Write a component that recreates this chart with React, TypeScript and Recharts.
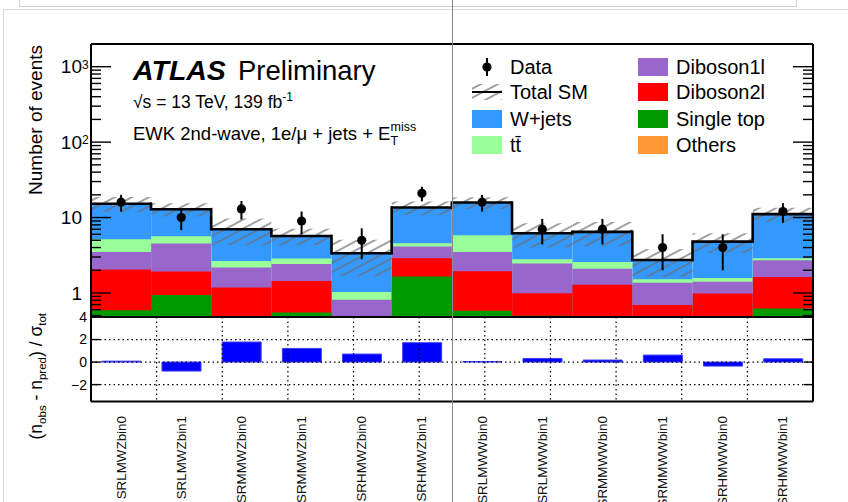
import React from 'react';
import { ComposedChart, Bar, Scatter, ErrorBar, XAxis, YAxis, ReferenceLine } from 'recharts';

// ---------- data ----------
const bins = [
  'SRLMWZbin0', 'SRLMWZbin1', 'SRMMWZbin0', 'SRMMWZbin1', 'SRHMWZbin0', 'SRHMWZbin1',
  'SRLMWWbin0', 'SRLMWWbin1', 'SRMMWWbin0', 'SRMMWWbin1', 'SRHMWWbin0', 'SRHMWWbin1',
];
const others = [0.05, 0.05, 0.05, 0.05, 0.03, 0.05, 0.05, 0.05, 0.05, 0.03, 0.03, 0.05];
const singleTop = [0.54, 0.89, 0.15, 0.5, 0.07, 1.6, 0.53, 0.45, 0.25, 0.27, 0.27, 0.57];
const diboson2l = [1.45, 0.98, 0.98, 0.89, 0.2, 1.24, 1.36, 0.49, 0.98, 0.39, 0.68, 1.01];
const diboson1l = [1.46, 2.6, 0.99, 0.99, 0.51, 1.23, 1.56, 1.46, 0.82, 0.68, 0.43, 1.09];
const ttbar = [1.67, 1.13, 0.49, 0.43, 0.22, 0.45, 2.33, 0.35, 0.48, 0.15, 0.17, 0.17];
const wjets = [10.1, 7.25, 4.34, 2.84, 2.33, 9.03, 9.97, 3.4, 3.88, 1.22, 3.22, 8.21];
const totalUnc = [3.4, 2.6, 2.7, 1.4, 1.7, 2.7, 2.8, 2.2, 2.3, 1.1, 1.4, 2.4];
const dataCounts = [16, 10, 13, 9, 5, 21, 16, 7, 7, 4, 4, 12];
const dataErrLow = [4, 3.2, 3.6, 3, 2.2, 4.6, 4, 2.6, 2.6, 2, 2, 3.5];
const dataErrHigh = [4, 3.2, 3.6, 3, 2.2, 4.6, 4, 2.6, 2.6, 2, 2, 3.5];
const significance = [0.08, -0.8, 1.78, 1.21, 0.71, 1.72, 0.05, 0.32, 0.18, 0.62, -0.36, 0.29];

// axis ticks
const topTicks = [
  0.5, 0.6, 0.7, 0.8, 0.9, 1, 2, 3, 4, 5, 6, 7, 8, 9, 10, 20, 30, 40, 50, 60, 70, 80, 90,
  100, 200, 300, 400, 500, 600, 700, 800, 900, 1000, 2000,
];
const topTickLabels: Record<number, [string, string]> = {
  1: ['1', ''], 10: ['10', ''], 100: ['10', '2'], 1000: ['10', '3'],
};
const lowTicks = [-2, 0, 2, 4];
const lowTickLabels: Record<string, string> = { '-2': '\u22122', '0': '0', '2': '2', '4': '4' };
const edgeTicks = [1, 2, 3, 4, 5, 6, 7, 8, 9, 10, 11];

const COLORS = {
  wjets: '#3399ff',
  ttbar: '#99ff99',
  diboson1l: '#9966cc',
  diboson2l: '#ff0000',
  singleTop: '#009900',
  others: '#ff9933',
};

// ---------- rows ----------
const totals = bins.map(
  (_, i) => others[i] + singleTop[i] + diboson2l[i] + diboson1l[i] + ttbar[i] + wjets[i]
);
const rows = bins.map((bin, i) => {
  const cOth = others[i];
  const cSt = cOth + singleTop[i];
  const cD2 = cSt + diboson2l[i];
  const cD1 = cD2 + diboson1l[i];
  const cTt = cD1 + ttbar[i];
  const cW = cTt + wjets[i];
  const nxt = i < bins.length - 1 ? totals[i + 1] : cW;
  return {
    bin, cOth, cSt, cD2, cD1, cTt, cW,
    band: [cW - totalUnc[i], cW + totalUnc[i]],
    step: [Math.min(cW, nxt), Math.max(cW, nxt)],
    data: dataCounts[i],
    dataErr: [dataErrLow[i], dataErrHigh[i]],
    sig: significance[i],
  };
});

// ---------- shapes / ticks ----------
const TopLineShape = (p: any) => {
  if (p.y == null || isNaN(p.y)) return null;
  return <line x1={p.x} x2={p.x + p.width} y1={p.y} y2={p.y} stroke="#000" strokeWidth={2.6} />;
};
const StepShape = (p: any) => {
  if (p.y == null || isNaN(p.y) || !p.height) return null;
  const x = p.x + p.width;
  const y1 = Math.min(p.y, p.y + p.height);
  const y2 = Math.max(p.y, p.y + p.height);
  return <line x1={x} x2={x} y1={y1 - 1.3} y2={y2 + 1.3} stroke="#000" strokeWidth={2.6} />;
};
const DotShape = (p: any) => <circle cx={p.cx} cy={p.cy} r={4.6} fill="#000" />;

const LogTickLeft = (p: any) => {
  const v = p.payload.value;
  const lab = topTickLabels[v];
  const { x, y } = p;
  return (
    <g>
      <line x1={x} x2={x + (lab ? 20 : 10)} y1={y} y2={y} stroke="#000" strokeWidth={1.4} />
      {lab && (
        <text x={x - 9} y={y} dy="0.35em" textAnchor="end" fontSize={19} fill="#000">{lab[0]}</text>
      )}
      {lab && lab[1] && (
        <text x={x - 9} y={y + 2} textAnchor="start" fontSize={12} fill="#000">{lab[1]}</text>
      )}
    </g>
  );
};
const LogTickRight = (p: any) => {
  const v = p.payload.value;
  const lab = topTickLabels[v];
  const { x, y } = p;
  return <line x1={x} x2={x - (lab ? 20 : 10)} y1={y} y2={y} stroke="#000" strokeWidth={1.4} />;
};
const LowTickLeft = (p: any) => {
  const v = p.payload.value;
  const { x, y } = p;
  return (
    <g>
      {v !== 4 && <line x1={x} x2={x + 9} y1={y} y2={y} stroke="#000" strokeWidth={1.4} />}
      <text x={x - 4} y={y} dy="0.35em" textAnchor="end" fontSize={14} fill="#000">{lowTickLabels[String(v)]}</text>
    </g>
  );
};
const LowTickRight = (p: any) => {
  const { x, y } = p;
  if (p.payload.value === 4) return null;
  return <line x1={x} x2={x - 9} y1={y} y2={y} stroke="#000" strokeWidth={1.4} />;
};
const BinLabel = (p: any) => {
  const x = p.x;
  const y = p.y + 14.5;
  return (
    <text x={x} y={y} transform={`rotate(-90 ${x} ${y})`} textAnchor="end" dominantBaseline="central" fontSize={13.4} fill="#111">
      {p.payload.value}
    </text>
  );
};

const layerAxes = ['l0', 'l1', 'l2', 'l3', 'l4', 'l5', 'l6', 'l7', 'l8'];
const FONT = '"Liberation Sans", Arial, Helvetica, sans-serif';

export default function App() {
  return (
    <div style={{ position: 'absolute', left: 0, top: 0, width: 848, height: 502, background: '#fff', overflow: 'hidden', fontFamily: FONT }}>
      <svg width={0} height={0} style={{ position: 'absolute' }}>
        <defs>
          <pattern id="hatch" patternUnits="userSpaceOnUse" width={16} height={8} patternTransform="rotate(-28)">
            <line x1={0} y1={4} x2={16} y2={4} stroke="#6e6e6e" strokeWidth={1.3} />
          </pattern>
        </defs>
      </svg>

      {/* window frame remnants */}
      <div style={{ position: 'absolute', left: 3, top: 9, width: 845, height: 493, borderLeft: '1px solid #dadada', borderTop: '1px solid #dadada' }} />
      <div style={{ position: 'absolute', left: 19, top: -1, width: 776, height: 7, border: '1px solid #d0d0d0', borderTop: 'none' }} />

      {/* upper panel */}
      <div style={{ position: 'absolute', left: 0, top: 0 }}>
        <ComposedChart width={848} height={320} data={rows} margin={{ top: 44, right: 34, bottom: 3, left: 90 }} barCategoryGap={0} barGap={0}>
          {layerAxes.map((id) => (
            <XAxis key={id} xAxisId={id} dataKey="bin" hide />
          ))}
          <XAxis xAxisId="cat" dataKey="bin" hide />
          <XAxis xAxisId="edgeTop" type="number" domain={[0, 12]} allowDataOverflow ticks={edgeTicks} orientation="top" mirror tick={false} tickSize={8} tickLine={{ stroke: '#000', strokeWidth: 1.4 }} axisLine={{ stroke: '#000', strokeWidth: 2 }} />
          <XAxis xAxisId="edgeBot" type="number" domain={[0, 12]} allowDataOverflow ticks={edgeTicks} orientation="bottom" mirror tick={false} tickSize={8} tickLine={{ stroke: '#000', strokeWidth: 1.4 }} axisLine={{ stroke: '#000', strokeWidth: 2 }} />
          <YAxis scale="log" domain={[0.48, 2000]} allowDataOverflow ticks={topTicks} interval={0} width={1} tickSize={0} tickMargin={0} tickLine={false} tick={<LogTickLeft />} axisLine={{ stroke: '#000', strokeWidth: 2 }} />
          <YAxis yAxisId="r" orientation="right" scale="log" domain={[0.48, 2000]} allowDataOverflow ticks={topTicks} interval={0} width={1} tickSize={0} tickMargin={0} tickLine={false} tick={<LogTickRight />} axisLine={{ stroke: '#000', strokeWidth: 2 }} />

          <Bar xAxisId="l0" dataKey="cW" fill={COLORS.wjets} isAnimationActive={false} />
          <Bar xAxisId="l1" dataKey="cTt" fill={COLORS.ttbar} isAnimationActive={false} />
          <Bar xAxisId="l2" dataKey="cD1" fill={COLORS.diboson1l} isAnimationActive={false} />
          <Bar xAxisId="l3" dataKey="cD2" fill={COLORS.diboson2l} isAnimationActive={false} />
          <Bar xAxisId="l4" dataKey="cSt" fill={COLORS.singleTop} isAnimationActive={false} />
          <Bar xAxisId="l5" dataKey="cOth" fill={COLORS.others} isAnimationActive={false} />
          <Bar xAxisId="l6" dataKey="band" fill="url(#hatch)" isAnimationActive={false} />
          <Bar xAxisId="l7" dataKey="cW" shape={TopLineShape} isAnimationActive={false} />
          <Bar xAxisId="l8" dataKey="step" shape={StepShape} isAnimationActive={false} />
          <Scatter xAxisId="cat" dataKey="data" shape={DotShape} isAnimationActive={false}>
            <ErrorBar dataKey="dataErr" direction="y" width={0} stroke="#000" strokeWidth={2} />
          </Scatter>
        </ComposedChart>
      </div>

      {/* lower panel */}
      <div style={{ position: 'absolute', left: 0, top: 300 }}>
        <ComposedChart width={848} height={202} data={rows} margin={{ top: 17, right: 34, bottom: 0.5, left: 90 }} barCategoryGap="18%">
          <XAxis xAxisId="cat" dataKey="bin" height={100} tickSize={0} tickMargin={0} tickLine={false} axisLine={false} interval={0} tick={<BinLabel />} />
          <XAxis xAxisId="edgeTop" type="number" domain={[0, 12]} allowDataOverflow ticks={edgeTicks} orientation="top" mirror tick={false} tickSize={4} tickLine={{ stroke: '#000', strokeWidth: 1.4 }} axisLine={{ stroke: '#000', strokeWidth: 2 }} />
          <XAxis xAxisId="edgeBot" type="number" domain={[0, 12]} allowDataOverflow ticks={edgeTicks} orientation="bottom" mirror tick={false} tickSize={5} tickLine={{ stroke: '#000', strokeWidth: 1.4 }} axisLine={{ stroke: '#000', strokeWidth: 2 }} />
          <YAxis domain={[-3.5, 4]} allowDataOverflow ticks={lowTicks} interval={0} width={1} tickSize={0} tickMargin={0} tickLine={false} tick={<LowTickLeft />} axisLine={{ stroke: '#000', strokeWidth: 2 }} />
          <YAxis yAxisId="r" orientation="right" domain={[-3.5, 4]} allowDataOverflow ticks={lowTicks} interval={0} width={1} tickSize={0} tickMargin={0} tickLine={false} tick={<LowTickRight />} axisLine={{ stroke: '#000', strokeWidth: 2 }} />
          {lowTicks.filter((t) => t !== 4).map((t) => (
            <ReferenceLine key={'h' + t} xAxisId="edgeTop" y={t} stroke="#000" strokeWidth={1.2} strokeDasharray="1.5 3" />
          ))}
          {edgeTicks.map((t) => (
            <ReferenceLine key={'v' + t} xAxisId="edgeTop" x={t} stroke="#000" strokeWidth={1.2} strokeDasharray="1.5 3" />
          ))}
          <Bar xAxisId="cat" dataKey="sig" fill="#0000ff" stroke="#3d3dff" strokeWidth={1} isAnimationActive={false} />
        </ComposedChart>
      </div>

      {/* titles, labels and legend */}
      <svg width={848} height={502} style={{ position: 'absolute', left: 0, top: 0, pointerEvents: 'none' }}>
        <text x={42} y={45} transform="rotate(-90 42 45)" textAnchor="end" fontSize={19} fill="#000">Number of events</text>
        <text x={42} y={313} transform="rotate(-90 42 313)" textAnchor="end" fontSize={17.5} fill="#000">
          (n<tspan dy={4} fontSize={11.5}>obs</tspan><tspan dy={-4}> - n</tspan><tspan dy={4} fontSize={11.5}>pred</tspan><tspan dy={-4}>) / σ</tspan><tspan dy={4} fontSize={11.5}>tot</tspan>
        </text>

        <text x={133} y={80} fontSize={28.5} fontWeight="bold" fontStyle="italic" fill="#000">ATLAS</text>
        <text x={238} y={80} fontSize={27.5} fill="#000">Preliminary</text>
        <text x={133} y={108} fontSize={17.5} fill="#000">
          √s = 13 TeV, 139 fb<tspan dy={-7} fontSize={12}>-1</tspan>
        </text>
        <text x={133} y={140} fontSize={18.5} fill="#000">
          EWK 2nd-wave, 1e/μ + jets + E<tspan dy={5} fontSize={12.5}>T</tspan><tspan dx={-7.6} dy={-14} fontSize={12.5}>miss</tspan>
        </text>

        {/* legend left column */}
        <line x1={487} x2={487} y1={58} y2={76} stroke="#000" strokeWidth={2} />
        <circle cx={487} cy={67} r={4.6} fill="#000" />
        <text x={510} y={74} fontSize={20} fill="#000">Data</text>

        <rect x={472} y={84} width={30} height={16} fill="url(#hatch)" />
        <line x1={472} x2={502} y1={92} y2={92} stroke="#000" strokeWidth={2} />
        <text x={510} y={99} fontSize={20} fill="#000">Total SM</text>

        <rect x={472} y={110} width={30} height={18} fill={COLORS.wjets} />
        <text x={510} y={126} fontSize={20} fill="#000">W+jets</text>

        <rect x={472} y={136} width={30} height={18} fill={COLORS.ttbar} />
        <text x={510} y={152} fontSize={20} fill="#000">tt̄</text>

        {/* legend right column */}
        <rect x={638} y={58} width={30} height={18} fill={COLORS.diboson1l} />
        <text x={676} y={74} fontSize={20} fill="#000">Diboson1l</text>
        <rect x={638} y={83} width={30} height={18} fill={COLORS.diboson2l} />
        <text x={676} y={99} fontSize={20} fill="#000">Diboson2l</text>
        <rect x={638} y={110} width={30} height={18} fill={COLORS.singleTop} />
        <text x={676} y={126} fontSize={20} fill="#000">Single top</text>
        <rect x={638} y={136} width={30} height={18} fill={COLORS.others} />
        <text x={676} y={152} fontSize={20} fill="#000">Others</text>
      </svg>

      <div style={{ position: 'absolute', left: 452, top: 0, width: 1, height: 502, background: '#8a8a8a' }} />
    </div>
  );
}
